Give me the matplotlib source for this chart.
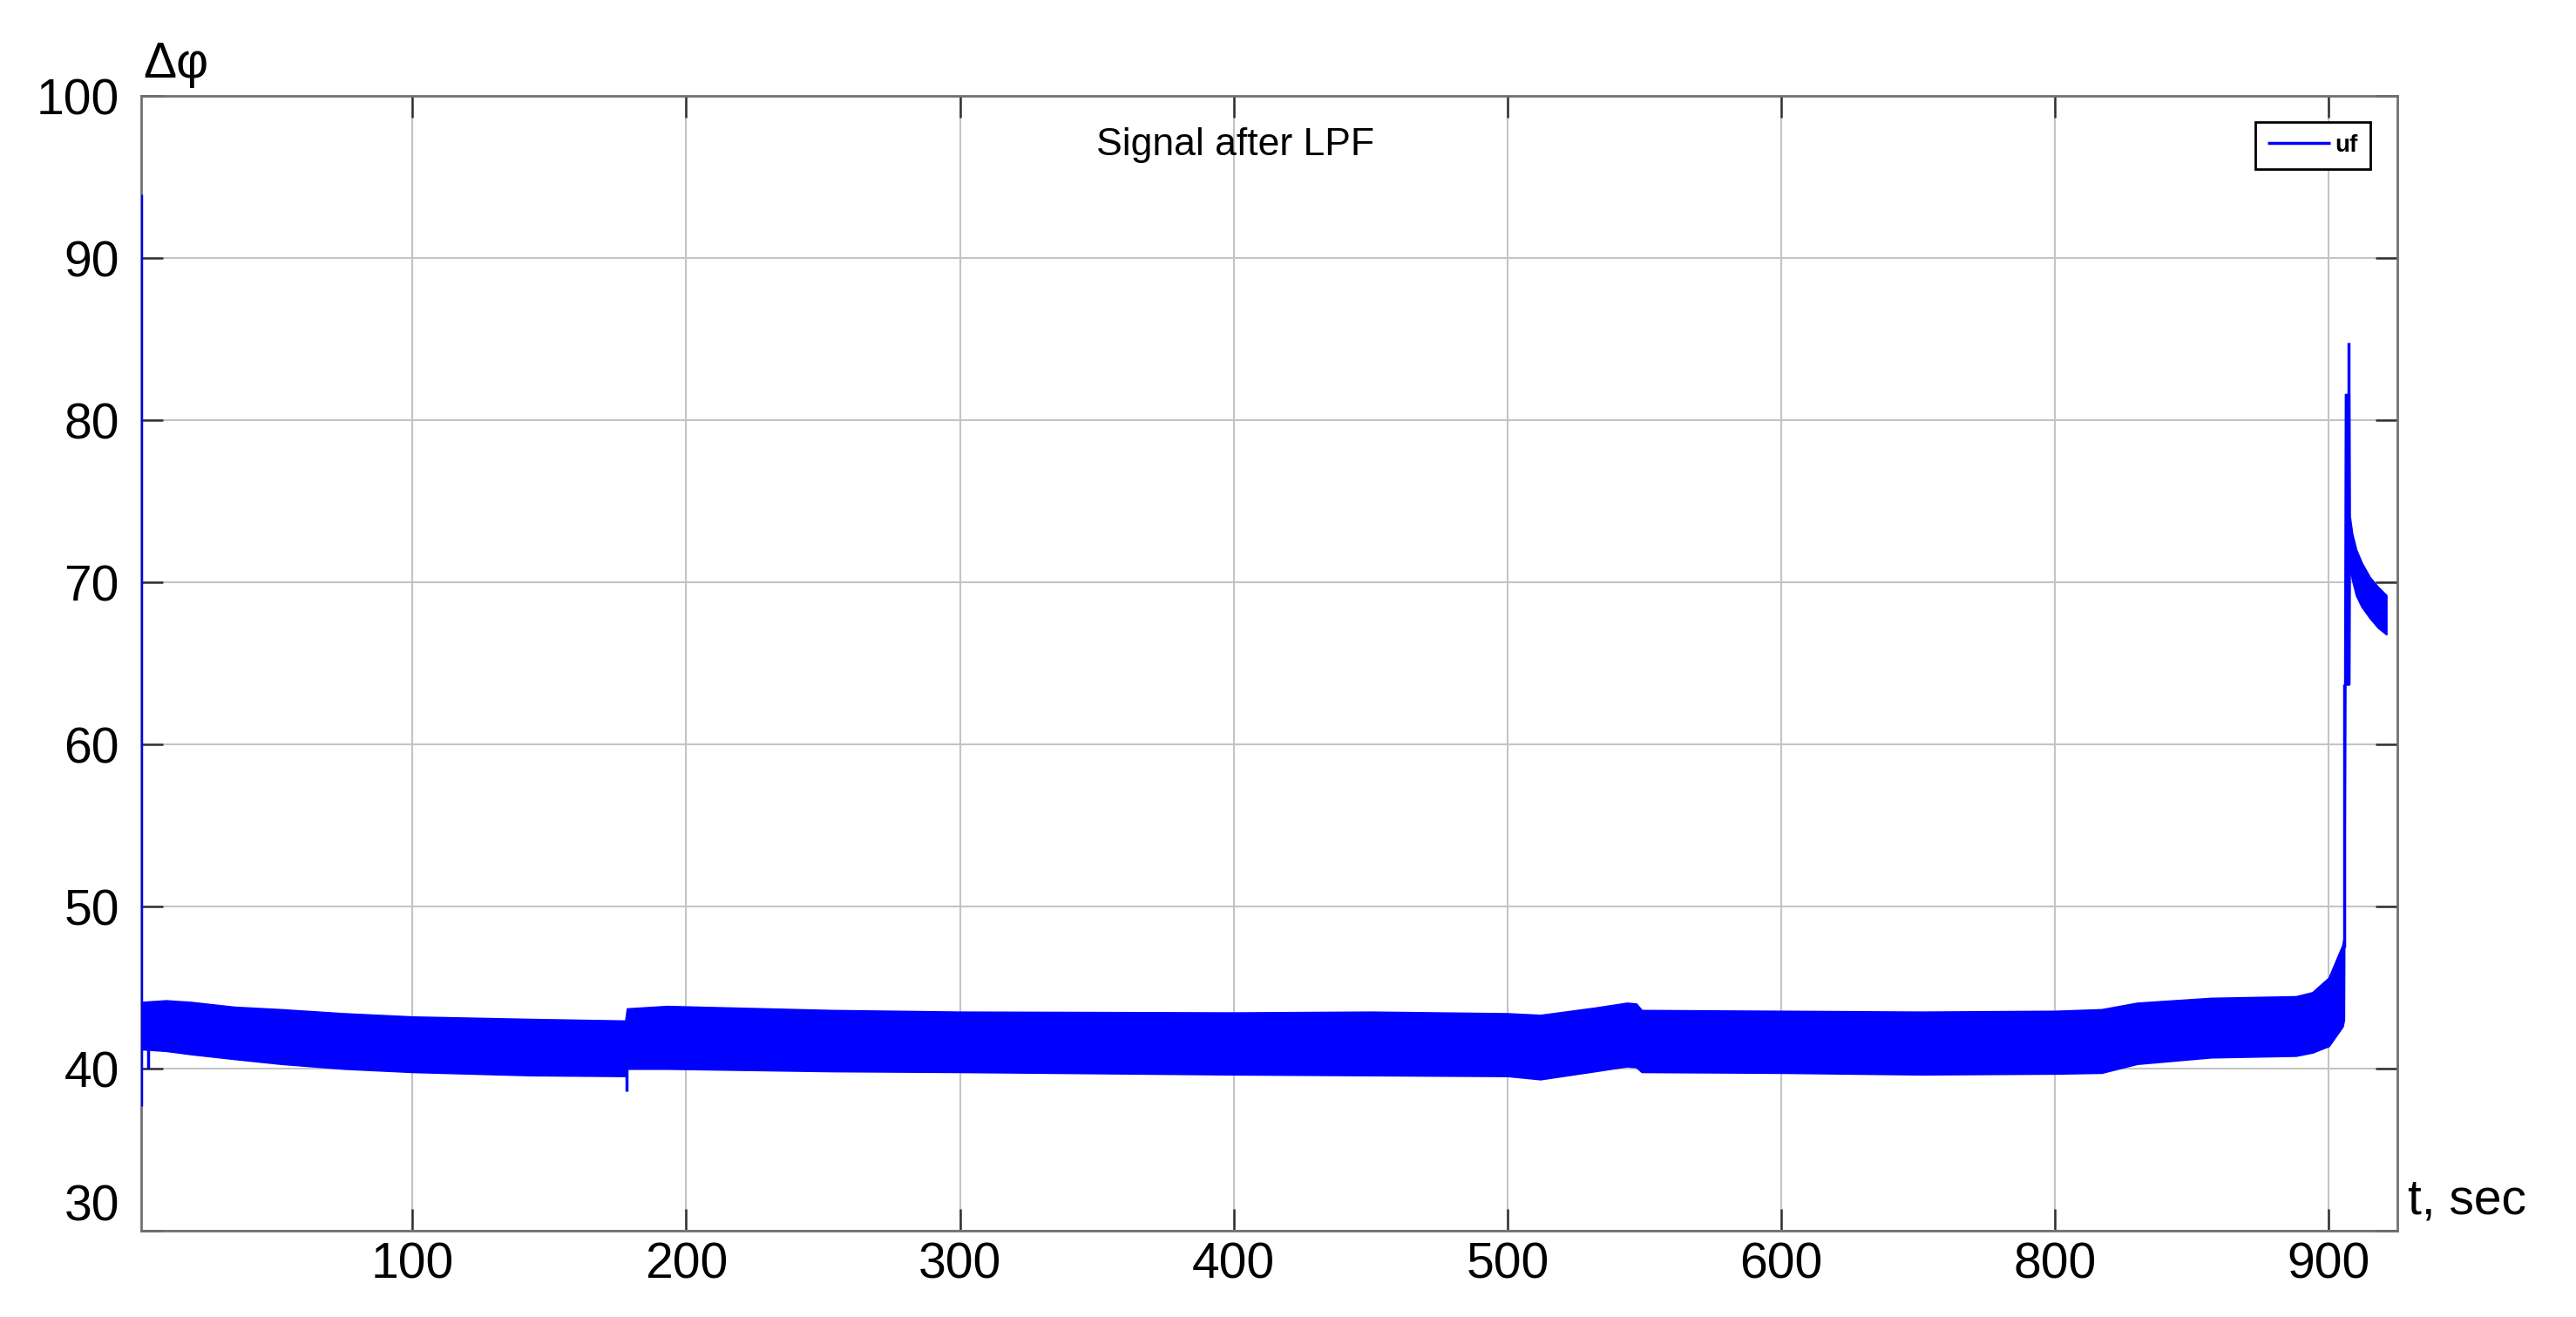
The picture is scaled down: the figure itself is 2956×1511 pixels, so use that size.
import numpy as np
import matplotlib.pyplot as plt

# envelope of the filtered signal (min / max of the fast oscillation)
t_band = [1.2, 10, 19, 35, 52, 75, 100, 143, 177.8, 178.4, 193, 253, 300, 400, 450, 500, 512,
          532, 543.6, 547, 549, 600, 651, 700, 717, 730, 757, 788, 794, 800, 805, 805.5,
          806.0, 807.4, 807.6, 808.5, 810, 812, 815, 818, 821]
uf_upper = [44.1, 44.2, 44.1, 43.8, 43.65, 43.4, 43.2, 43.05, 42.95, 43.7, 43.85, 43.6, 43.5,
            43.45, 43.5, 43.4, 43.3, 43.75, 44.05, 44.0, 43.6, 43.55, 43.5, 43.55, 43.65, 44.05,
            44.35, 44.45, 44.7, 45.6, 47.6, 48.0,
            81.6, 81.6, 74.1, 73.0, 72.0, 71.2, 70.3, 69.7, 69.2]
uf_lower = [41.2, 41.1, 40.9, 40.6, 40.3, 40.0, 39.8, 39.6, 39.55, 40.0, 40.0, 39.85, 39.8,
            39.65, 39.6, 39.55, 39.35, 39.85, 40.15, 40.1, 39.8, 39.75, 39.65, 39.7, 39.75, 40.3,
            40.7, 40.8, 41.0, 41.4, 42.6, 43.0,
            63.7, 63.7, 71.3, 70.2, 69.2, 68.5, 67.8, 67.2, 66.8]

# thin spikes of the trace
spike_t = [1.0, 3.3, 178.2, 805.7, 807.3]
spike_lo = [37.7, 40.0, 38.6, 47.5, 63.7]
spike_hi = [93.9, 41.2, 42.9, 63.7, 84.8]

xtick_pos = [100, 200, 300, 400, 500, 600, 700, 800]
xtick_labels = ['100', '200', '300', '400', '500', '600', '800', '900']
ytick_pos = [30, 40, 50, 60, 70, 80, 90, 100]

if __name__ == '__main__':
    plt.rcParams['font.family'] = ['Liberation Sans', 'DejaVu Sans']

    fig = plt.figure(figsize=(29.56, 15.11), dpi=100)
    ax = fig.add_axes([0.0548, 0.0655, 0.8758, 0.8617])

    blue = '#0000ff'
    ax.fill_between(t_band, uf_lower, uf_upper, color=blue, linewidth=1.5, zorder=3)
    ax.vlines(spike_t, spike_lo, spike_hi, colors=blue, linewidth=2.5, zorder=3, label='uf')

    ax.set_xlim(0.9, 825)
    ax.set_ylim(30, 100)
    ax.set_xticks(xtick_pos)
    ax.set_xticklabels(xtick_labels)
    ax.set_yticks(ytick_pos)
    ax.set_yticklabels([str(v) for v in ytick_pos])

    ax.grid(True, color='#c4c4c4', linewidth=1.5, zorder=0)
    ax.set_axisbelow(True)
    for sp in ax.spines.values():
        sp.set_color('#707070')
        sp.set_linewidth(2)

    ax.tick_params(axis='both', direction='in', length=18, width=1.8, color='#303030',
                   top=True, right=True, labelsize=41)
    ax.tick_params(axis='x', pad=9)
    ax.tick_params(axis='y', pad=18)
    # the lowest y label sits just above the x axis
    ax.get_yticklabels()[0].set_verticalalignment('bottom')

    ax.text(0.485, 0.948, 'Signal after LPF', transform=ax.transAxes, fontsize=32,
            ha='center', va='baseline')
    fig.text(0.0556, 0.941, 'Δφ', fontsize=41, ha='left', va='baseline')
    fig.text(0.9347, 0.0781, 't, sec', fontsize=41, ha='left', va='baseline')

    leg = ax.legend(loc='upper right', bbox_to_anchor=(0.988, 0.977), borderaxespad=0,
                    fancybox=False, framealpha=1, edgecolor='black',
                    prop={'size': 20, 'weight': 'bold'}, handlelength=2.6,
                    handletextpad=0.2, borderpad=0.5)
    leg.get_frame().set_linewidth(2)

    fig.savefig('out.png', dpi=100)
